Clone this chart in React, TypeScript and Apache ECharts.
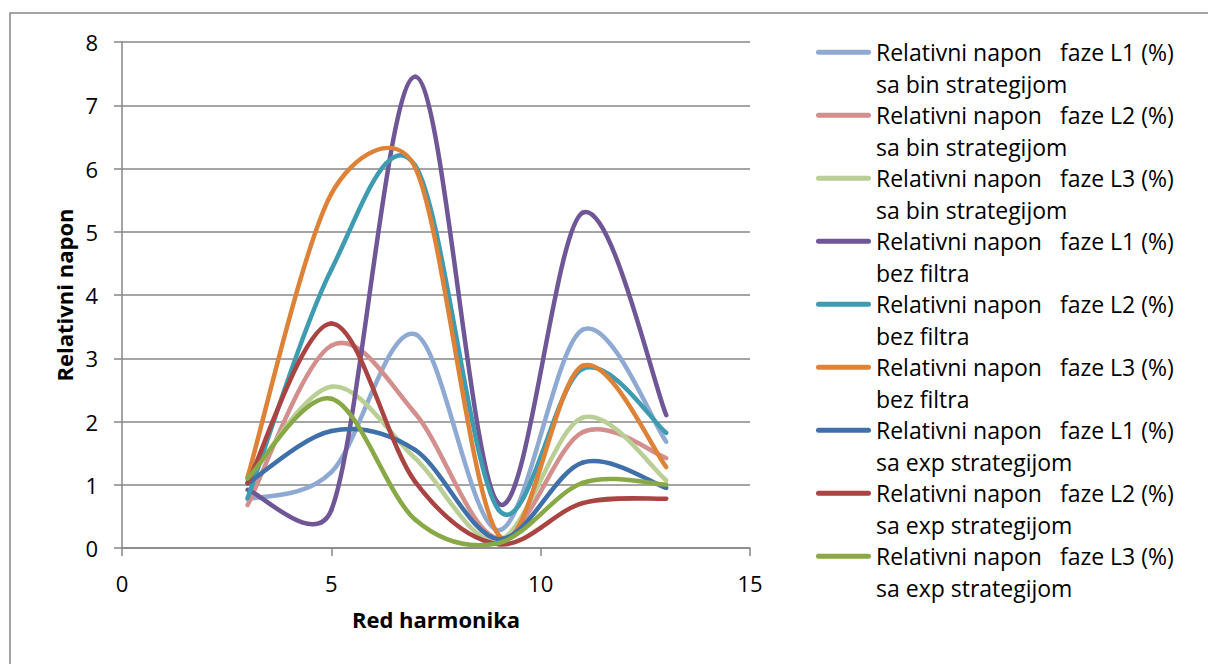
import React, { useEffect, useRef } from "react";
import * as echarts from "echarts";

const harmonics = [3, 5, 7, 9, 11, 13];

const seriesNames = [
  "Relativni napon   faze L1 (%)\nsa bin strategijom",
  "Relativni napon   faze L2 (%)\nsa bin strategijom",
  "Relativni napon   faze L3 (%)\nsa bin strategijom",
  "Relativni napon   faze L1 (%)\nbez filtra",
  "Relativni napon   faze L2 (%)\nbez filtra",
  "Relativni napon   faze L3 (%)\nbez filtra",
  "Relativni napon   faze L1 (%)\nsa exp strategijom",
  "Relativni napon   faze L2 (%)\nsa exp strategijom",
  "Relativni napon   faze L3 (%)\nsa exp strategijom",
];

const l1Bin = [0.77, 1.2, 3.38, 0.28, 3.45, 1.68];
const l2Bin = [0.68, 3.2, 2.13, 0.15, 1.83, 1.42];
const l3Bin = [1.07, 2.55, 1.42, 0.12, 2.06, 1.07];
const l1Bez = [0.92, 0.6, 7.45, 0.7, 5.3, 2.1];
const l2Bez = [0.79, 4.4, 6.05, 0.6, 2.83, 1.82];
const l3Bez = [1.12, 5.6, 6.02, 0.2, 2.88, 1.28];
const l1Exp = [1.02, 1.85, 1.55, 0.14, 1.35, 0.95];
const l2Exp = [1.03, 3.55, 1.05, 0.06, 0.71, 0.78];
const l3Exp = [1.1, 2.36, 0.45, 0.08, 1.03, 1.0];

const allValues = [l1Bin, l2Bin, l3Bin, l1Bez, l2Bez, l3Bez, l1Exp, l2Exp, l3Exp];

const colors = [
  "#8EA9D2",
  "#D38F8D",
  "#B9CF95",
  "#6F5696",
  "#3F9BB0",
  "#DD8237",
  "#3F70A9",
  "#A94442",
  "#88A946",
];

const FONT = "Open Sans";

function dist(a: number[], b: number[]) {
  return Math.hypot(a[0] - b[0], a[1] - b[1]);
}

// Excel-like smoothed segment between point i and i+1 (rendering only)
function makeRenderItem(vals: number[], color: string) {
  return (params: any, api: any) => {
    const i = params.dataIndex;
    const n = harmonics.length;
    if (i >= n - 1) return null;
    const pts = harmonics.map((x, j) => api.coord([x, vals[j]]));
    const p0 = pts[Math.max(i - 1, 0)];
    const p1 = pts[i];
    const p2 = pts[i + 1];
    const p3 = pts[Math.min(i + 2, n - 1)];
    const d12 = dist(p1, p2);
    const d02 = dist(p0, p2);
    const d13 = dist(p1, p3);
    const f1 = d02 > 0 ? Math.min(1 / 6, d12 / 2 / d02) : 0;
    const f2 = d13 > 0 ? Math.min(1 / 6, d12 / 2 / d13) : 0;
    return {
      type: "bezierCurve",
      shape: {
        x1: p1[0],
        y1: p1[1],
        x2: p2[0],
        y2: p2[1],
        cpx1: p1[0] + (p2[0] - p0[0]) * f1,
        cpy1: p1[1] + (p2[1] - p0[1]) * f1,
        cpx2: p2[0] - (p3[0] - p1[0]) * f2,
        cpy2: p2[1] - (p3[1] - p1[1]) * f2,
      },
      style: { stroke: color, lineWidth: 4.5, fill: "none", lineCap: "round" },
    };
  };
}

export default function App() {
  const ref = useRef<HTMLDivElement>(null);

  useEffect(() => {
    if (!ref.current) return;
    const chart = echarts.init(ref.current, null, { renderer: "svg" });
    const series = allValues.map((vals, i) => ({
      name: seriesNames[i],
      type: "custom",
      coordinateSystem: "cartesian2d",
      encode: { x: 0, y: 1 },
      data: harmonics.map((x, j) => [x, vals[j]]),
      itemStyle: { color: colors[i] },
      renderItem: makeRenderItem(vals, colors[i]),
      clip: false,
    }));
    chart.setOption({
      animation: false,
      backgroundColor: "#ffffff",
      textStyle: { fontFamily: FONT },
      graphic: [
        {
          type: "rect",
          shape: { x: 10, y: 13, width: 1400, height: 800 },
          style: { fill: "none", stroke: "#878787", lineWidth: 1.5 },
          silent: true,
        },
      ],
      grid: { left: 122, top: 42, width: 628, height: 506, containLabel: false },
      legend: {
        orient: "vertical",
        left: 816,
        top: 5,
        padding: 0,
        itemWidth: 55,
        itemHeight: 14,
        itemGap: -31.5,
        icon: "path://M2.5,0 L52.5,0 A2.5,2.5 0 0 1 52.5,5 L2.5,5 A2.5,2.5 0 0 1 2.5,0 Z",
        formatter: (name: string) => "\n" + name,
        textStyle: {
          fontFamily: FONT,
          fontSize: 23,
          color: "#000",
          lineHeight: 31.5,
        },
        data: seriesNames.map((n, i) => ({ name: n, itemStyle: { color: colors[i] } })),
      },
      xAxis: {
        type: "value",
        min: 0,
        max: 15,
        interval: 5,
        name: "Red harmonika",
        nameLocation: "middle",
        nameGap: 60,
        nameTextStyle: { fontFamily: FONT, fontSize: 22, fontWeight: "bold", color: "#000" },
        axisLine: { show: true, onZero: false, lineStyle: { color: "#878787", width: 1.5 } },
        axisTick: { show: true, length: 8, inside: false, lineStyle: { color: "#878787", width: 1.5 } },
        axisLabel: { fontFamily: FONT, fontSize: 22, color: "#000", margin: 24 },
        splitLine: { show: false },
      },
      yAxis: {
        type: "value",
        min: 0,
        max: 8,
        interval: 1,
        name: "Relativni napon",
        nameLocation: "middle",
        nameGap: 47,
        nameRotate: 90,
        nameTextStyle: { fontFamily: FONT, fontSize: 22, fontWeight: "bold", color: "#000" },
        axisLine: { show: true, lineStyle: { color: "#878787", width: 1.5 } },
        axisTick: { show: true, length: 8, inside: false, lineStyle: { color: "#878787", width: 1.5 } },
        axisLabel: { fontFamily: FONT, fontSize: 22, color: "#000", margin: 24 },
        splitLine: { show: true, lineStyle: { color: "#878787", width: 1.5 } },
      },
      series,
    });
    return () => chart.dispose();
  }, []);

  return (
    <div
      ref={ref}
      style={{ position: "fixed", left: 0, top: 0, width: 1208, height: 664, background: "#fff" }}
    />
  );
}
